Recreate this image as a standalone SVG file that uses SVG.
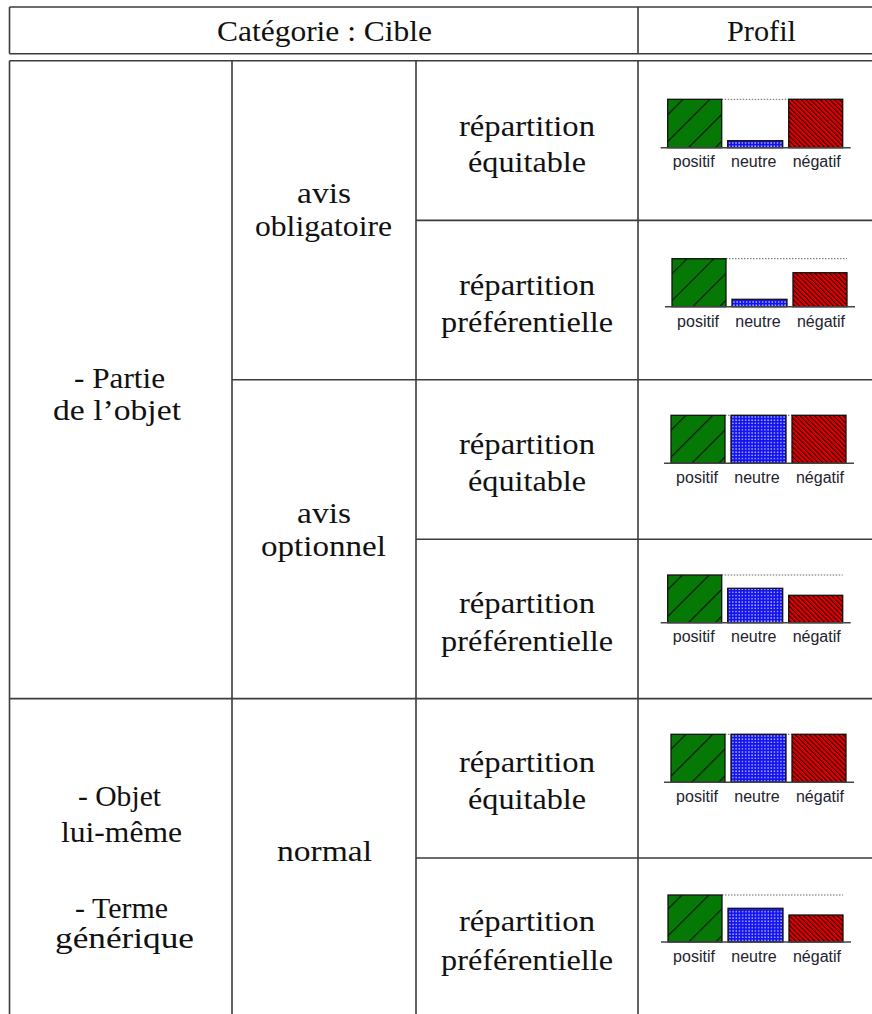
<svg xmlns="http://www.w3.org/2000/svg" width="872" height="1014" viewBox="0 0 872 1014">
<style>
.t{font-family:"Liberation Serif","Times New Roman",serif;font-size:30px;fill:#111;text-anchor:middle}
.l{font-family:"Liberation Sans",Arial,sans-serif;font-size:16px;fill:#23232e;text-anchor:middle}
.g{stroke:#3c3c3c;stroke-width:1.6;fill:none}
.ax{stroke:#444;stroke-width:1.6}
.dot{stroke:#666;stroke-width:1;stroke-dasharray:1.5 1.5}
.bar{stroke:#111;stroke-width:1.3}
</style>
<defs>
<pattern id="pPos" patternUnits="userSpaceOnUse" width="19" height="19" patternTransform="rotate(45)">
<rect width="19" height="19" fill="#067806"/>
<line x1="0.6" y1="0" x2="0.6" y2="19" stroke="#0b1a0b" stroke-width="1.2"/>
</pattern>
<pattern id="pNeg" patternUnits="userSpaceOnUse" width="3.4" height="3.4" patternTransform="rotate(-45)">
<rect width="3.4" height="3.4" fill="#e00000"/>
<line x1="0.5" y1="0" x2="0.5" y2="3.4" stroke="#200000" stroke-width="1.1"/>
</pattern>
<pattern id="pNeu" patternUnits="userSpaceOnUse" width="3.2" height="3.2">
<rect width="3.2" height="3.2" fill="#1414f0"/>
<rect x="1.1" y="1.1" width="1.2" height="1.2" fill="#e8ecff"/>
</pattern>
</defs>
<rect width="872" height="1014" fill="#fff"/>

<g id="grid">
<path class="g" d="M9.5,7 H880 M9.5,53.7 H880 M9.5,7 V53.7 M638,7 V53.7"/>
<path class="g" d="M9.5,60.7 H880 M9.5,60.7 V1014 M232,60.7 V1014 M416,60.7 V1014 M638,60.7 V1014"/>
<path class="g" d="M416,220.4 H880 M232,379.8 H880 M416,539.2 H880 M9.5,698.6 H880 M416,858 H880"/>
</g>

<g id="header">
<text class="t" x="324.5" y="41" textLength="215" lengthAdjust="spacingAndGlyphs">Catégorie : Cible</text>
<text class="t" x="761.5" y="41" textLength="69" lengthAdjust="spacingAndGlyphs">Profil</text>
</g>

<g id="cible-partie">
<text class="t" x="119.5" y="388" textLength="91" lengthAdjust="spacingAndGlyphs">- Partie</text>
<text class="t" x="117" y="420" textLength="128" lengthAdjust="spacingAndGlyphs">de l’objet</text>
</g>
<g id="cible-objet">
<text class="t" x="119.5" y="806" textLength="83" lengthAdjust="spacingAndGlyphs">- Objet</text>
<text class="t" x="121.5" y="842" textLength="121" lengthAdjust="spacingAndGlyphs">lui-même</text>
<text class="t" x="121.5" y="918" textLength="93" lengthAdjust="spacingAndGlyphs">- Terme</text>
<text class="t" x="124.5" y="948" textLength="139" lengthAdjust="spacingAndGlyphs">générique</text>
</g>

<g id="avis-obligatoire">
<text class="t" x="324" y="203" textLength="54" lengthAdjust="spacingAndGlyphs">avis</text>
<text class="t" x="323.5" y="236" textLength="137" lengthAdjust="spacingAndGlyphs">obligatoire</text>
</g>
<g id="avis-optionnel">
<text class="t" x="324" y="523" textLength="54" lengthAdjust="spacingAndGlyphs">avis</text>
<text class="t" x="323.5" y="556" textLength="125" lengthAdjust="spacingAndGlyphs">optionnel</text>
</g>
<g id="normal">
<text class="t" x="324.5" y="861" textLength="95" lengthAdjust="spacingAndGlyphs">normal</text>
</g>

<g id="rep-1">
<text class="t" x="527" y="136" textLength="136" lengthAdjust="spacingAndGlyphs">répartition</text>
<text class="t" x="527" y="172" textLength="118" lengthAdjust="spacingAndGlyphs">équitable</text>
</g>
<g id="rep-2">
<text class="t" x="527" y="294.5" textLength="136" lengthAdjust="spacingAndGlyphs">répartition</text>
<text class="t" x="527" y="332" textLength="172" lengthAdjust="spacingAndGlyphs">préférentielle</text>
</g>
<g id="rep-3">
<text class="t" x="527" y="453.5" textLength="136" lengthAdjust="spacingAndGlyphs">répartition</text>
<text class="t" x="527" y="490.5" textLength="118" lengthAdjust="spacingAndGlyphs">équitable</text>
</g>
<g id="rep-4">
<text class="t" x="527" y="613" textLength="136" lengthAdjust="spacingAndGlyphs">répartition</text>
<text class="t" x="527" y="650.5" textLength="172" lengthAdjust="spacingAndGlyphs">préférentielle</text>
</g>
<g id="rep-5">
<text class="t" x="527" y="772" textLength="136" lengthAdjust="spacingAndGlyphs">répartition</text>
<text class="t" x="527" y="809" textLength="118" lengthAdjust="spacingAndGlyphs">équitable</text>
</g>
<g id="rep-6">
<text class="t" x="527" y="931" textLength="136" lengthAdjust="spacingAndGlyphs">répartition</text>
<text class="t" x="527" y="969.5" textLength="172" lengthAdjust="spacingAndGlyphs">préférentielle</text>
</g>

<g id="profil-1" transform="translate(660.7,147.7)">
<line class="dot" x1="61" y1="-48.4" x2="182" y2="-48.4"/>
<rect class="bar" x="7" y="-48.4" width="54" height="48.4" fill="url(#pPos)"/>
<rect class="bar" x="67" y="-7" width="55" height="7" fill="url(#pNeu)"/>
<rect class="bar" x="128" y="-48.4" width="54" height="48.4" fill="url(#pNeg)"/>
<line class="ax" x1="0" y1="0" x2="190" y2="0"/>
<text class="l" x="33" y="19">positif</text>
<text class="l" x="93" y="19">neutre</text>
<text class="l" x="156" y="19">négatif</text>
</g>
<g id="profil-2" transform="translate(665,306.7)">
<line class="dot" x1="61" y1="-48" x2="182" y2="-48"/>
<rect class="bar" x="7" y="-48" width="54" height="48" fill="url(#pPos)"/>
<rect class="bar" x="67" y="-7.4" width="55" height="7.4" fill="url(#pNeu)"/>
<rect class="bar" x="128" y="-34" width="54" height="34" fill="url(#pNeg)"/>
<line class="ax" x1="0" y1="0" x2="190" y2="0"/>
<text class="l" x="33" y="20">positif</text>
<text class="l" x="93" y="20">neutre</text>
<text class="l" x="156" y="20">négatif</text>
</g>
<g id="profil-3" transform="translate(664,463.3)">
<line class="dot" x1="61" y1="-48" x2="182" y2="-48"/>
<rect class="bar" x="7" y="-48" width="54" height="48" fill="url(#pPos)"/>
<rect class="bar" x="67" y="-48" width="55" height="48" fill="url(#pNeu)"/>
<rect class="bar" x="128" y="-48" width="54" height="48" fill="url(#pNeg)"/>
<line class="ax" x1="0" y1="0" x2="190" y2="0"/>
<text class="l" x="33" y="19.8">positif</text>
<text class="l" x="93" y="19.8">neutre</text>
<text class="l" x="156" y="19.8">négatif</text>
</g>
<g id="profil-4" transform="translate(660.7,622.7)">
<line class="dot" x1="61" y1="-47.7" x2="182" y2="-47.7"/>
<rect class="bar" x="7" y="-47.7" width="54" height="47.7" fill="url(#pPos)"/>
<rect class="bar" x="67" y="-34.4" width="55" height="34.4" fill="url(#pNeu)"/>
<rect class="bar" x="128" y="-27.4" width="54" height="27.4" fill="url(#pNeg)"/>
<line class="ax" x1="0" y1="0" x2="190" y2="0"/>
<text class="l" x="33" y="19.5">positif</text>
<text class="l" x="93" y="19.5">neutre</text>
<text class="l" x="156" y="19.5">négatif</text>
</g>
<g id="profil-5" transform="translate(664,782.3)">
<line class="dot" x1="61" y1="-48" x2="182" y2="-48"/>
<rect class="bar" x="7" y="-48" width="54" height="48" fill="url(#pPos)"/>
<rect class="bar" x="67" y="-48" width="55" height="48" fill="url(#pNeu)"/>
<rect class="bar" x="128" y="-48" width="54" height="48" fill="url(#pNeg)"/>
<line class="ax" x1="0" y1="0" x2="190" y2="0"/>
<text class="l" x="33" y="19.8">positif</text>
<text class="l" x="93" y="19.8">neutre</text>
<text class="l" x="156" y="19.8">négatif</text>
</g>
<g id="profil-6" transform="translate(661,942)">
<line class="dot" x1="61" y1="-47" x2="182" y2="-47"/>
<rect class="bar" x="7" y="-47" width="54" height="47" fill="url(#pPos)"/>
<rect class="bar" x="67" y="-33.7" width="55" height="33.7" fill="url(#pNeu)"/>
<rect class="bar" x="128" y="-27" width="54" height="27" fill="url(#pNeg)"/>
<line class="ax" x1="0" y1="0" x2="190" y2="0"/>
<text class="l" x="33" y="19.5">positif</text>
<text class="l" x="93" y="19.5">neutre</text>
<text class="l" x="156" y="19.5">négatif</text>
</g>
</svg>
